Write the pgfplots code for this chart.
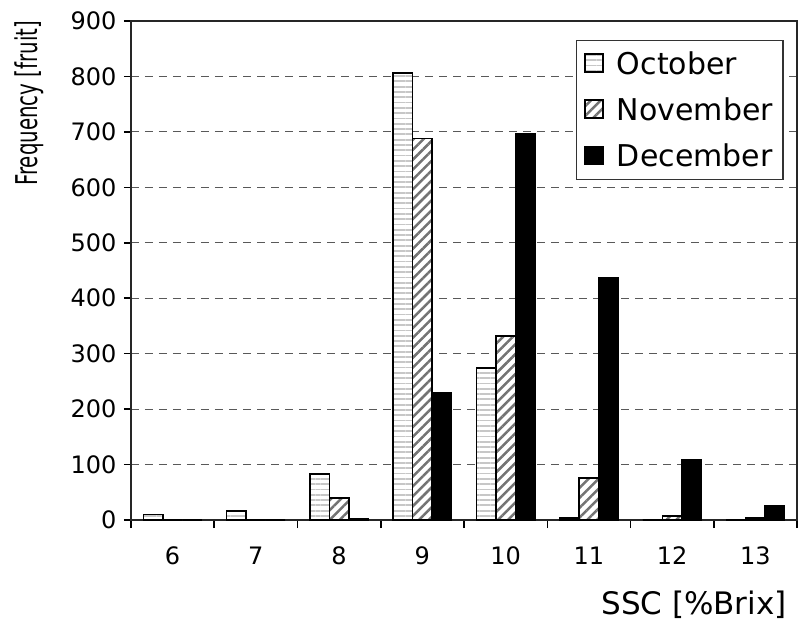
\documentclass[border=0pt]{standalone}
\usepackage{fontspec}
\setmainfont{DejaVu Sans}
\usepackage{pgfplots}
\usepackage{pgfplotstable}
\pgfplotsset{compat=1.18}
\usetikzlibrary{patterns.meta}

% square legend key with a gap before the text
\pgfplotsset{sqlegend/.style={legend image code/.code={%
  \draw[##1] (0bp,-8bp) rectangle (18bp,10bp);
  \path (29bp,0bp);}}}

\pgfplotstableread{
ssc oct nov dec
6   10  0   0
7   16  0   0
8   83  40  3
9   806 688 229
10  274 332 697
11  4   76  437
12  0   7   108
13  0   4   25
}\freq

\begin{document}
\begin{tikzpicture}
\begin{axis}[
  scale only axis, width=666bp, height=499bp,
  ybar=0pt, bar width=19.5bp,
  xmin=5.5, xmax=13.5, ymin=0, ymax=900,
  xtick={6,...,13}, minor xtick={5.5,6.5,...,13.5},
  ytick={0,100,...,900},
  major x tick style={draw=none},
  tick align=outside, tick pos=left,
  major tick length=7bp, minor tick length=8bp,
  tick style={line width=1.5bp, black},
  axis line style={line width=1.8bp, black!85},
  ymajorgrids,
  major grid style={dash pattern=on 8bp off 6bp, line width=1.2bp, black!65},
  /pgf/number format/assume math mode=true,
  tick label style={font=\fontsize{24bp}{28bp}\selectfont},
  xticklabel style={yshift=-16bp},
  yticklabel style={xshift=-4bp},
  xlabel={SSC [\%Brix]},
  xlabel style={at={(axis description cs:0.985,-0.190)}, anchor=base east,
    inner sep=0pt, font=\fontsize{31bp}{37bp}\selectfont},
  ylabel={Frequency [fruit]},
  ylabel style={at={(axis description cs:-0.1411,0.835)}, anchor=base,
    inner sep=0pt, xscale=0.66, font=\fontsize{30bp}{36bp}\selectfont},
  legend style={draw=black!80, line width=1.3bp, at={(0.980,0.962)}, anchor=north east,
    font=\fontsize{30bp}{36bp}\selectfont, inner xsep=8bp, inner ysep=9bp,
    row sep=18bp, nodes={inner sep=2bp}},
  legend cell align=left,
]
\addplot[draw=black, line width=1.6bp, preaction={fill=white},
  pattern={Lines[angle=0,distance=5.3bp,line width=1.8bp]}, pattern color=black!22, sqlegend]
  table[x=ssc, y=oct] {\freq};
\addplot[draw=black, line width=1.6bp, preaction={fill=white},
  pattern={Lines[angle=45,distance=7bp,line width=2.5bp]}, pattern color=black!55, sqlegend]
  table[x=ssc, y=nov] {\freq};
\addplot[draw=black, line width=1.6bp, fill=black, sqlegend]
  table[x=ssc, y=dec] {\freq};
\legend{October,November,December}
\coordinate (o) at (rel axis cs:0,0);
\end{axis}
\pgfresetboundingbox
\path[use as bounding box] (o) ++(-131bp,-102bp) rectangle ++(798bp,622bp);
\end{tikzpicture}
\end{document}
